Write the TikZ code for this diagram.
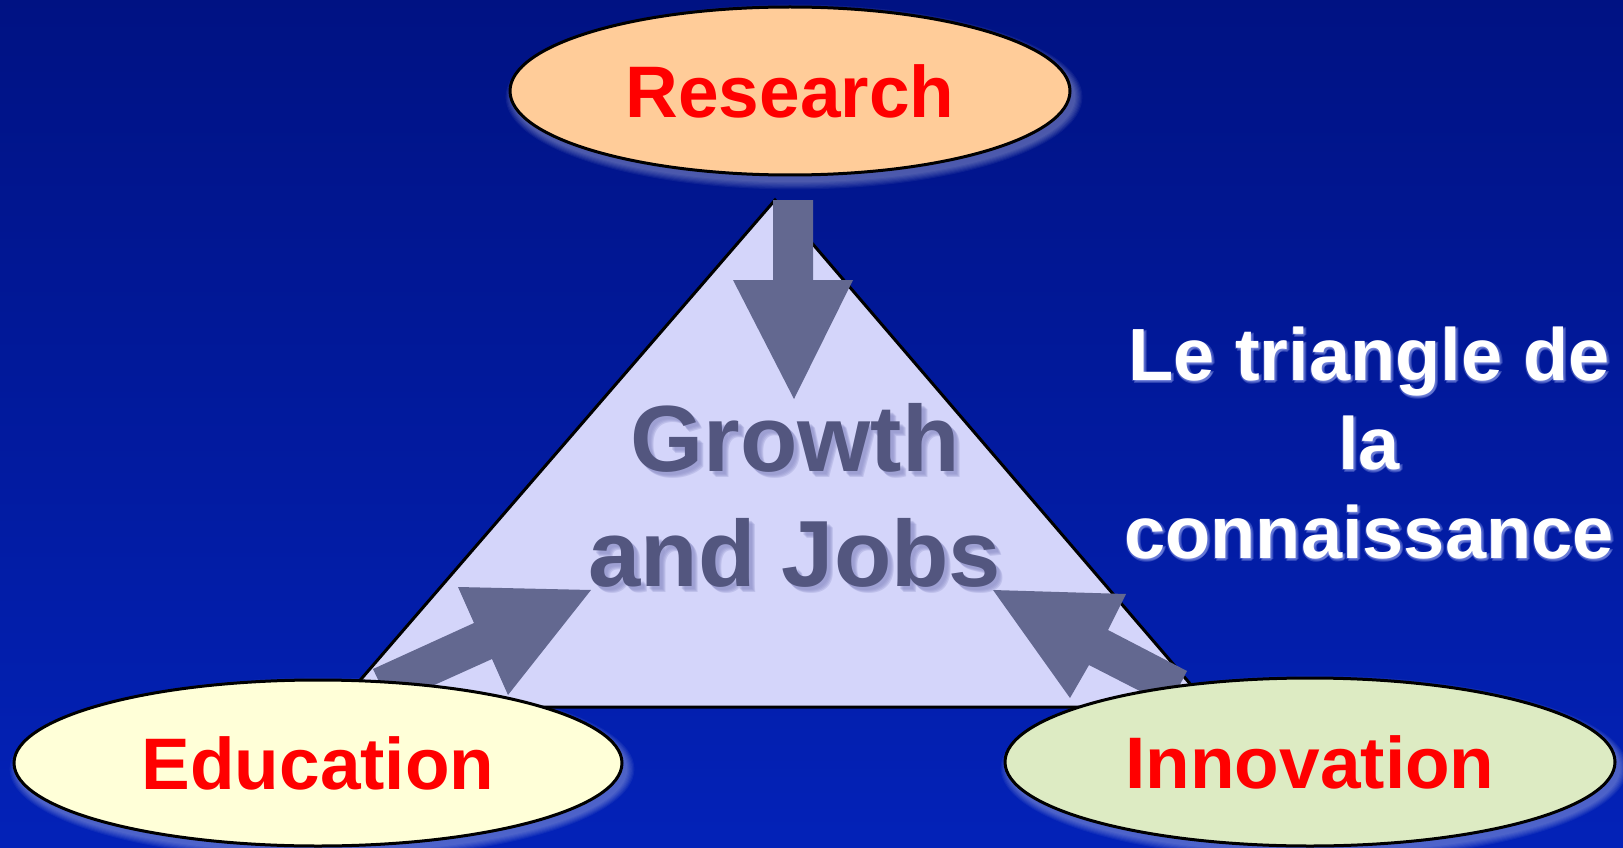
\documentclass[tikz,border=0pt]{standalone}
\usepackage{fontspec}
\setmainfont{Liberation Sans}
\usetikzlibrary{shapes.geometric}
\definecolor{bgtop}{HTML}{001283}
\definecolor{bgbot}{HTML}{0322B8}
\definecolor{resc}{HTML}{FFCC99}
\definecolor{educ}{HTML}{FFFFD8}
\definecolor{innc}{HTML}{DDEBC3}
\definecolor{trif}{HTML}{D4D5FA}
\definecolor{arrc}{HTML}{636890}
\definecolor{gjc}{HTML}{53567F}
\definecolor{gjsh}{HTML}{8E90C8}
\definecolor{wsh}{HTML}{9AA8F0}
\tikzset{
  ell/.style={ellipse, draw=black, line width=3pt, inner sep=0pt, text=red,
    font=\fontsize{73pt}{88pt}\selectfont\bfseries},
  blockarrow/.style={fill=arrc, draw=none},
  gjfont/.style={font=\fontsize{94pt}{115pt}\selectfont\bfseries, align=center},
  ltfont/.style={font=\fontsize{74pt}{89pt}\selectfont\bfseries, align=center}
}
\newcommand{\ellshadow}[4]{%
  \foreach \i in {1,...,7}{
    \fill[white, opacity=0.05] (#1+4,#2+6) ellipse [x radius={#3+\i*1.2pt}, y radius={#4+\i*1.2pt}];
  }}
\begin{document}
\begin{tikzpicture}[x=1pt,y=-1pt]
\useasboundingbox (0,0) rectangle (1623,848);
\shade[top color=bgtop, bottom color=bgbot] (0,0) rectangle (1623,848);

% shadows of ellipses
\ellshadow{790}{91}{280pt}{84pt}
\ellshadow{318}{763}{304pt}{83pt}
\ellshadow{1310}{762}{305pt}{84pt}

% triangle
\coordinate (tA) at (775,200);
\coordinate (tB) at (337,707);
\coordinate (tC) at (1210,707);
\draw[line width=3pt, fill=trif, line join=miter] (tA) -- (tB) -- (tC) -- cycle;

% block arrows
\fill[blockarrow] (773,200) -- (813,200) -- (813,280) -- (853,280) -- (794,399) -- (733,280) -- (773,280) -- cycle;
\fill[blockarrow] (373,669) -- (474,623) -- (458,587) -- (591,590) -- (508,695) -- (492,659) -- (390,705) -- cycle;
\fill[blockarrow] (1187,671) -- (1108,630) -- (1126,594) -- (993,590) -- (1070,698) -- (1089,665) -- (1169,706) -- cycle;

% Growth and Jobs with soft shadow
\foreach \d in {3,4,5,6}{
  \node[gjfont, text=gjsh, opacity=0.3] at (795+\d,495.5+\d) {Growth\\and Jobs};
}
\node[gjfont, text=gjc] (gj) at (795,495.5) {Growth\\and Jobs};

% ellipses
\node[ell, fill=resc, minimum width=560pt, minimum height=168pt] (res) at (790,91) {Research};
\node[ell, fill=educ, minimum width=608pt, minimum height=166pt] (edu) at (318,763) {Education};
\node[ell, fill=innc, minimum width=610pt, minimum height=168pt] (inn) at (1310,762) {Innovation};

% right text with soft glow
\foreach \dx/\dy in {2/2,-1/1,1/3,3/1}{
  \node[ltfont, text=wsh, opacity=0.3] at (1369+\dx,443+\dy) {Le triangle de\\la\\connaissance};
}
\node[ltfont, text=white] (lt) at (1369,443) {Le triangle de\\la\\connaissance};
\end{tikzpicture}
\end{document}
